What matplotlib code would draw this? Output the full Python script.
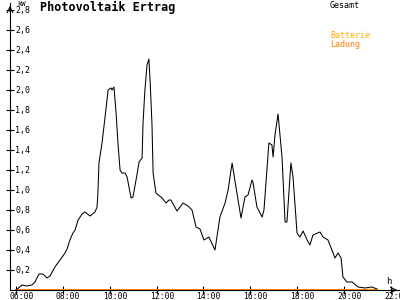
import matplotlib
matplotlib.use("Agg")
import matplotlib.pyplot as plt
import matplotlib.transforms as mtransforms

# Gesamt (kW) over time of day (hours)
hours = [6.00, 6.26, 6.43, 6.68, 6.81, 6.98, 7.15, 7.32, 7.45, 7.66, 7.88, 8.09, 8.18,
         8.30, 8.43, 8.52, 8.65, 8.82, 8.94, 9.16, 9.37, 9.46, 9.50, 9.54, 9.67, 9.80,
         9.93, 10.05, 10.10, 10.18, 10.27, 10.35, 10.44, 10.52, 10.65, 10.74, 10.82,
         10.91, 10.99, 11.16, 11.25, 11.38, 11.42, 11.50, 11.59, 11.67, 11.72, 11.80,
         11.85, 11.97, 12.23, 12.40, 12.53, 12.61, 12.87, 13.13, 13.34, 13.51, 13.68,
         13.85, 14.02, 14.23, 14.49, 14.70, 14.92, 15.05, 15.22, 15.35, 15.60, 15.77,
         15.90, 16.07, 16.11, 16.28, 16.50, 16.58, 16.79, 16.92, 16.97, 17.05, 17.18,
         17.35, 17.48, 17.56, 17.73, 17.82, 17.99, 18.12, 18.25, 18.42, 18.54, 18.67,
         18.97, 19.10, 19.31, 19.48, 19.61, 19.74, 19.87, 19.95, 20.12, 20.34, 20.59,
         20.89, 21.19, 21.40]
gesamt = [0.00, 0.05, 0.04, 0.05, 0.08, 0.16, 0.16, 0.12, 0.14, 0.23, 0.30, 0.37, 0.41,
          0.50, 0.57, 0.60, 0.70, 0.76, 0.78, 0.74, 0.78, 0.83, 1.00, 1.27, 1.47, 1.73,
          2.00, 2.02, 2.00, 2.03, 1.77, 1.47, 1.20, 1.17, 1.17, 1.13, 1.03,
          0.92, 0.93, 1.15, 1.28, 1.32, 1.67, 2.00, 2.25, 2.31, 2.10, 1.67,
          1.17, 0.97, 0.92, 0.87, 0.90, 0.90, 0.79, 0.87, 0.84, 0.80, 0.63,
          0.61, 0.50, 0.53, 0.40, 0.73, 0.87, 1.00, 1.27, 1.08, 0.72, 0.93,
          0.95, 1.10, 1.08, 0.83, 0.73, 0.80, 1.47, 1.45, 1.33, 1.55, 1.76,
          1.33, 0.68, 0.68, 1.27, 1.13, 0.57, 0.53, 0.59, 0.50, 0.45, 0.55,
          0.58, 0.53, 0.50, 0.40, 0.32, 0.37, 0.32, 0.13, 0.08, 0.08, 0.03,
          0.02, 0.03, 0.01]

# Batterie Ladung (kW)
lade_hours = [6.0, 21.4]
ladung = [0.0, 0.0]

yticks = [0.2, 0.4, 0.6, 0.8, 1.0, 1.2, 1.4, 1.6, 1.8, 2.0, 2.2, 2.4, 2.6, 2.8]
xticks = [6, 8, 10, 12, 14, 16, 18, 20, 22]
xlabels = ["06:00", "08:00", "10:00", "12:00", "14:00", "16:00", "18:00", "20:00", "22:00"]

plt.rcParams['font.family'] = 'DejaVu Sans Mono'

fig = plt.figure(figsize=(4, 3), dpi=100)
ax = fig.add_axes([10 / 400, 10 / 300, 390 / 400, 287 / 300])
ax.set_xlim(5.744, 22.384)
ax.set_ylim(0, 2.87)

ax.plot(lade_hours, ladung, color="#FF8000", lw=1.5, zorder=3)
ax.plot(hours, gesamt, color="black", lw=0.75, zorder=4)

for side in ['top', 'right']:
    ax.spines[side].set_visible(False)
for side in ['left', 'bottom']:
    ax.spines[side].set_linewidth(0.8)

ax.set_xticks(xticks)
ax.set_yticks(yticks)
ax.set_xticklabels([])
ax.set_yticklabels([])
ax.tick_params(direction='inout', length=6, width=0.8)

# y tick labels, right of the axis
trans = mtransforms.blended_transform_factory(ax.transAxes, ax.transData)
for v in yticks:
    ax.text(5 / 390, v, ("%.1f" % v).replace(".", ","), transform=trans,
            ha='left', va='center', fontsize=6)

# x tick labels
for t, lab in zip(xticks, xlabels):
    ax.annotate(lab, xy=(t, 0), xytext=(-7, -2), textcoords='offset pixels',
                ha='left', va='top', fontsize=5.8, annotation_clip=False)

# arrows on axes
ax.annotate('', xy=(1.0, 0), xytext=(0.97, 0), xycoords='axes fraction',
            arrowprops=dict(arrowstyle='->', lw=0.8, color='black'), annotation_clip=False)
ax.annotate('', xy=(0, 1.0), xytext=(0, 0.96), xycoords='axes fraction',
            arrowprops=dict(arrowstyle='->', lw=0.8, color='black'), annotation_clip=False)

fig.text(17 / 400, 1 - 4 / 300, "kW", fontsize=5, ha='left', va='center')
fig.text(386 / 400, 1 - 282 / 300, "h", fontsize=6.5, ha='left', va='center')
fig.text(40 / 400, 1 - 7 / 300, "Photovoltaik Ertrag", fontsize=8.5,
         fontweight='bold', ha='left', va='center')
fig.text(330 / 400, 1 - 5 / 300, "Gesamt", fontsize=6, ha='left', va='center')
fig.text(330 / 400, 1 - 36 / 300, "Batterie", fontsize=6, color="#FFAA00",
         ha='left', va='center')
fig.text(330 / 400, 1 - 44 / 300, "Ladung", fontsize=6, color="#FF8000",
         ha='left', va='center')

fig.savefig("out.png", dpi=100, facecolor='white')
